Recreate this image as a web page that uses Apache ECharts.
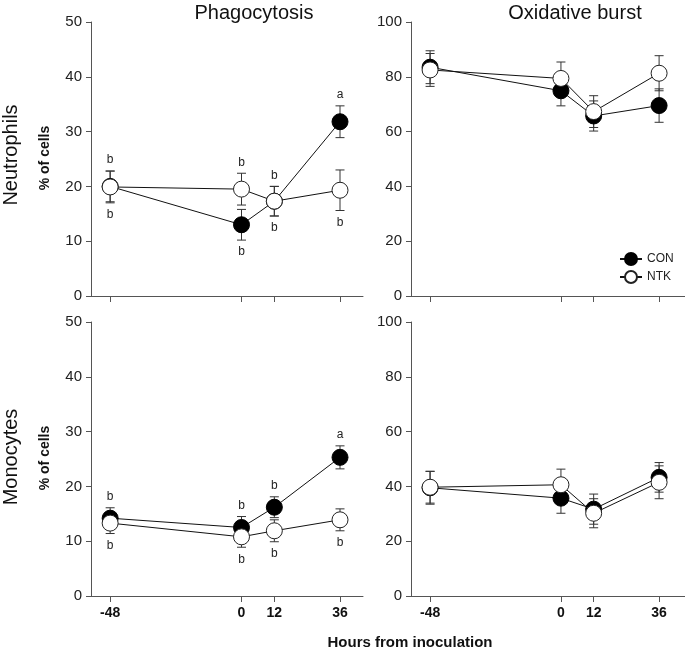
<!DOCTYPE html>
<html>
<head>
<meta charset="utf-8">
<script src="https://cdn.jsdelivr.net/npm/echarts@6/dist/echarts.min.js"></script>
<style>
html,body{margin:0;padding:0;background:#fff;}
#chart{width:685px;height:651px;}
</style>
</head>
<body>
<div id="chart"></div>
<script>
// ---- data ----
const hours = [-48, 0, 12, 36];
const xTickLabels = ['-48', '0', '12', '36'];

const neuPhagoCON = [20.0, 13.0, 17.3, 31.8];
const neuPhagoCONerr = [2.8, 2.8, 2.7, 2.9];
const neuPhagoNTK = [19.9, 19.5, 17.3, 19.3];
const neuPhagoNTKerr = [2.9, 2.9, 2.7, 3.7];

const neuOxCON = [83.5, 74.9, 65.7, 69.5];
const neuOxCONerr = [6.0, 5.5, 5.5, 6.1];
const neuOxNTK = [82.5, 79.4, 67.3, 81.3];
const neuOxNTKerr = [6.0, 6.0, 5.8, 6.4];

const monPhagoCON = [14.2, 12.5, 16.2, 25.3];
const monPhagoCONerr = [1.9, 2.0, 1.9, 2.1];
const monPhagoNTK = [13.3, 10.8, 11.9, 13.9];
const monPhagoNTKerr = [1.9, 1.9, 2.0, 2.0];

const monOxCON = [39.5, 35.7, 31.7, 43.3];
const monOxCONerr = [6.0, 5.5, 5.5, 5.4];
const monOxNTK = [39.7, 40.6, 30.2, 41.5];
const monOxNTKerr = [5.8, 5.7, 5.3, 6.0];

const neuPhagoTopLetters = ['b', 'b', 'b', 'a'];
const neuPhagoBottomLetters = ['b', 'b', 'b', 'b'];
const monPhagoTopLetters = ['b', 'b', 'b', 'a'];
const monPhagoBottomLetters = ['b', 'b', 'b', 'b'];

const colTitles = ['Phagocytosis', 'Oxidative burst'];
const rowTitles = ['Neutrophils', 'Monocytes'];
const yAxisTitle = '% of cells';
const xAxisTitle = 'Hours from inoculation';
const groups = ['CON', 'NTK'];

// ---- build ----
const FONT = '"Liberation Sans", Arial, Helvetica, sans-serif';
const grids = [
  {left: 91, top: 22, width: 272, height: 274},
  {left: 411, top: 22, width: 274, height: 274},
  {left: 91, top: 322, width: 272, height: 274},
  {left: 411, top: 322, width: 274, height: 274}
];
const xMax = [44.4, 45.5, 44.4, 45.5];
const yMaxs = [50, 100, 50, 100];
const yInts = [10, 20, 10, 20];

const xAxes = grids.map((g, i) => ({
  type: 'value', gridIndex: i, min: -55, max: xMax[i],
  axisLine: {show: true, onZero: false, lineStyle: {color: '#555', width: 1}},
  axisTick: {show: true, customValues: hours, length: 6, lineStyle: {color: '#555'}},
  axisLabel: {show: i >= 2, customValues: hours, margin: 10,
    formatter: v => xTickLabels[hours.indexOf(v)] ?? '',
    fontFamily: FONT, fontSize: 14, fontWeight: 'bold', color: '#111'},
  splitLine: {show: false}
}));
const yAxes = grids.map((g, i) => ({
  type: 'value', gridIndex: i, min: 0, max: yMaxs[i], interval: yInts[i],
  axisLine: {show: true, onZero: false, lineStyle: {color: '#555', width: 1}},
  axisTick: {show: true, length: 5, lineStyle: {color: '#555'}},
  axisLabel: {margin: 9, fontFamily: FONT, fontSize: 15, color: '#222'},
  splitLine: {show: false}
}));

function errRender(params, api) {
  const x = api.value(0), lo = api.value(1), hi = api.value(2);
  const pLo = api.coord([x, lo]), pHi = api.coord([x, hi]);
  const cw = 4.5;
  const style = {stroke: '#333', lineWidth: 1, fill: null};
  return {type: 'group', children: [
    {type: 'line', shape: {x1: pLo[0], y1: pLo[1], x2: pHi[0], y2: pHi[1]}, style},
    {type: 'line', shape: {x1: pLo[0] - cw, y1: pLo[1], x2: pLo[0] + cw, y2: pLo[1]}, style},
    {type: 'line', shape: {x1: pHi[0] - cw, y1: pHi[1], x2: pHi[0] + cw, y2: pHi[1]}, style}
  ]};
}

function letterRender(tops, bottoms) {
  return function (params, api) {
    const x = api.value(0), hi = api.value(1), lo = api.value(2);
    const pHi = api.coord([x, hi]), pLo = api.coord([x, lo]);
    const st = {fill: '#222', font: '12px ' + FONT, textAlign: 'center', textVerticalAlign: 'middle'};
    return {type: 'group', children: [
      {type: 'text', x: pHi[0], y: pHi[1] - 11, style: Object.assign({text: tops[params.dataIndex]}, st)},
      {type: 'text', x: pLo[0], y: pLo[1] + 12, style: Object.assign({text: bottoms[params.dataIndex]}, st)}
    ]};
  };
}

const panels = [
  {con: neuPhagoCON, conErr: neuPhagoCONerr, ntk: neuPhagoNTK, ntkErr: neuPhagoNTKerr, tops: neuPhagoTopLetters, bottoms: neuPhagoBottomLetters},
  {con: neuOxCON, conErr: neuOxCONerr, ntk: neuOxNTK, ntkErr: neuOxNTKerr},
  {con: monPhagoCON, conErr: monPhagoCONerr, ntk: monPhagoNTK, ntkErr: monPhagoNTKerr, tops: monPhagoTopLetters, bottoms: monPhagoBottomLetters},
  {con: monOxCON, conErr: monOxCONerr, ntk: monOxNTK, ntkErr: monOxNTKerr}
];

const series = [];
panels.forEach((p, i) => {
  [[p.con, p.conErr], [p.ntk, p.ntkErr]].forEach(([vals, errs], k) => {
    series.push({
      type: 'custom', xAxisIndex: i, yAxisIndex: i, z: 1, silent: true,
      renderItem: errRender,
      data: hours.map((h, j) => [h, vals[j] - errs[j], vals[j] + errs[j]])
    });
  });
  if (p.tops) {
    series.push({
      type: 'custom', xAxisIndex: i, yAxisIndex: i, z: 1, silent: true,
      renderItem: letterRender(p.tops, p.bottoms),
      data: hours.map((h, j) => [h,
        Math.max(p.con[j] + p.conErr[j], p.ntk[j] + p.ntkErr[j]),
        Math.min(p.con[j] - p.conErr[j], p.ntk[j] - p.ntkErr[j])])
    });
  }
  series.push({
    name: 'CON', type: 'line', xAxisIndex: i, yAxisIndex: i, z: 3,
    symbol: 'circle', symbolSize: 16,
    lineStyle: {color: '#111', width: 1},
    itemStyle: {color: '#000', borderColor: '#000', borderWidth: 1},
    data: hours.map((h, j) => [h, p.con[j]])
  });
  series.push({
    name: 'NTK', type: 'line', xAxisIndex: i, yAxisIndex: i, z: 4,
    symbol: 'circle', symbolSize: 16,
    lineStyle: {color: '#111', width: 1},
    itemStyle: {color: '#fff', borderColor: '#222', borderWidth: 1},
    data: hours.map((h, j) => [h, p.ntk[j]])
  });
});

const graphics = [
  {type: 'text', x: 254, y: 13, style: {text: colTitles[0], font: '20px ' + FONT, fill: '#111', textAlign: 'center', textVerticalAlign: 'middle'}},
  {type: 'text', x: 575, y: 13, style: {text: colTitles[1], font: '20px ' + FONT, fill: '#111', textAlign: 'center', textVerticalAlign: 'middle'}},
  {type: 'text', x: 11, y: 155, rotation: Math.PI / 2, style: {text: rowTitles[0], font: '20px ' + FONT, fill: '#111', textAlign: 'center', textVerticalAlign: 'middle'}},
  {type: 'text', x: 11, y: 457, rotation: Math.PI / 2, style: {text: rowTitles[1], font: '20px ' + FONT, fill: '#111', textAlign: 'center', textVerticalAlign: 'middle'}},
  {type: 'text', x: 45, y: 158, rotation: Math.PI / 2, style: {text: yAxisTitle, font: 'bold 14px ' + FONT, fill: '#111', textAlign: 'center', textVerticalAlign: 'middle'}},
  {type: 'text', x: 45, y: 458, rotation: Math.PI / 2, style: {text: yAxisTitle, font: 'bold 14px ' + FONT, fill: '#111', textAlign: 'center', textVerticalAlign: 'middle'}},
  {type: 'text', x: 410, y: 643, style: {text: xAxisTitle, font: 'bold 15px ' + FONT, fill: '#111', textAlign: 'center', textVerticalAlign: 'middle'}}
];

const chart = echarts.init(document.getElementById('chart'), null, {renderer: 'canvas'});
chart.setOption({
  animation: false,
  backgroundColor: '#fff',
  grid: grids,
  xAxis: xAxes,
  yAxis: yAxes,
  legend: {
    data: groups, orient: 'vertical', left: 614, top: 247,
    itemWidth: 22, itemHeight: 15, itemGap: 4,
    textStyle: {fontFamily: FONT, fontSize: 12, color: '#222'}
  },
  graphic: graphics,
  series: series
});
</script>
</body>
</html>
